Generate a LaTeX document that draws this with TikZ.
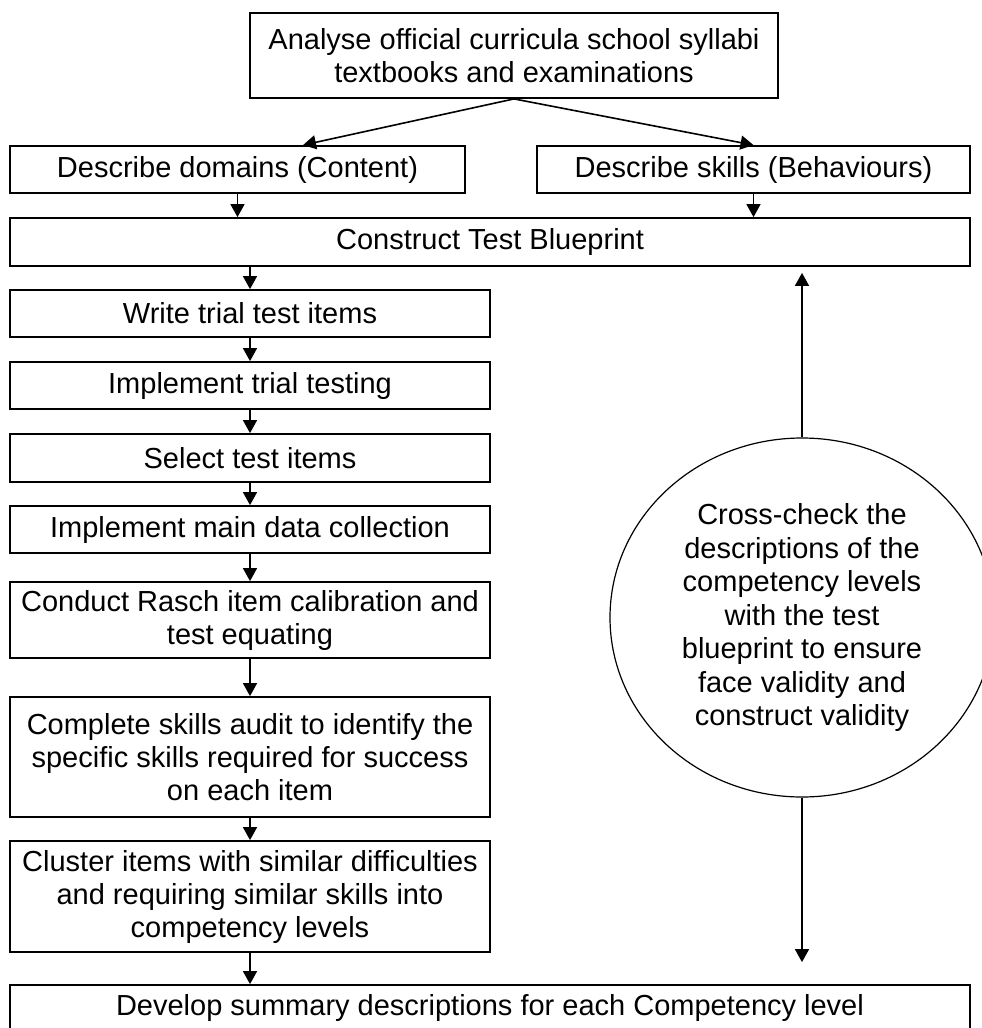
\documentclass[tikz,border=0pt]{standalone}
\usepackage{fontspec}
\setmainfont{Liberation Sans}
\usepackage{tikz}
\usetikzlibrary{shapes.geometric,arrows.meta}
\tikzstyle{box} = [draw, line width=1.8pt, align=center, inner sep=0pt, font=\fontsize{29}{33}\selectfont]
\tikzstyle{wide} = [minimum width=960pt]
\tikzstyle{col} = [minimum width=480pt]
\tikzstyle{flow} = [line width=1.6pt, -{Triangle[width=14pt,length=13pt]}]

\begin{document}
\begin{tikzpicture}[x=1pt,y=-1pt]
  \useasboundingbox (0,0) rectangle (982,1028);
  \node (top) at (514,55.5) [box, minimum width=528pt, minimum height=85pt] {Analyse official curricula school syllabi\\textbooks and examinations};
  \node (dom) at (237.5,169.5) [box, minimum width=455pt, minimum height=47pt] {Describe domains (Content)};
  \node (skl) at (753.5,169.5) [box, minimum width=433pt, minimum height=47pt] {Describe skills (Behaviours)};
  \node (bp) at (490,242) [box, wide, minimum height=48pt] {Construct Test Blueprint};
  \node (write) at (250,313.5) [box, col, minimum height=47pt] {Write trial test items};
  \node (impl) at (250,385.5) [box, col, minimum height=47pt] {Implement trial testing};
  \node (sel) at (250,458) [box, col, minimum height=48pt] {Select test items};
  \node (main) at (250,529.5) [box, col, minimum height=47pt] {Implement main data collection};
  \node (rasch) at (250,620) [box, col, minimum height=76pt] {Conduct Rasch item calibration and\\test equating};
  \node (audit) at (250,757) [box, col, minimum height=120pt] {Complete skills audit to identify the\\specific skills required for success\\on each item};
  \node (clus) at (250,896.5) [box, col, minimum height=111pt] {Cluster items with similar difficulties\\and requiring similar skills into\\competency levels};
  \node (dev) at (490,1008) [box, wide, minimum height=46pt] {Develop summary descriptions for each Competency level};
  \node (chk) at (802,617.5) [ellipse, draw, line width=1.2pt, minimum width=384pt, minimum height=359pt, inner sep=0pt, align=center, font=\fontsize{29}{33.5}\selectfont] {Cross-check the\\descriptions of the\\competency levels\\with the test\\blueprint to ensure\\face validity and\\construct validity};
  \draw [flow] (top.south) to ([xshift=65.5pt]dom.north);
  \draw [flow] (top.south) to (skl.north);
  \draw [flow] (dom.south) to (dom.south |- bp.north);
  \draw [flow] (skl.south) to (skl.south |- bp.north);
  \draw [flow] (write.north |- bp.south) to (write.north);
  \draw [flow] (write) to (impl);
  \draw [flow] (impl) to (sel);
  \draw [flow] (sel) to (main);
  \draw [flow] (main) to (rasch);
  \draw [flow] (rasch) to (audit);
  \draw [flow] (audit) to (clus);
  \draw [flow] (clus.south) to (clus.south |- dev.north);
  \draw [flow, shorten >=6pt] (chk.north) to (chk.north |- bp.south);
  \draw [flow, shorten >=22pt] (chk.south) to (chk.south |- dev.north);
\end{tikzpicture}
\end{document}
